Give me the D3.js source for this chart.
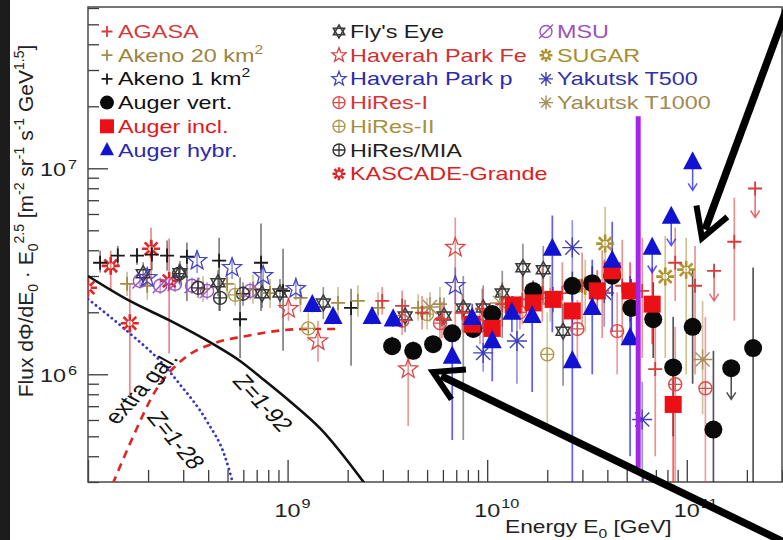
<!DOCTYPE html>
<html><head><meta charset="utf-8">
<script src="https://cdn.jsdelivr.net/npm/d3@7"></script>
<style>
body{margin:0;background:#fff}
svg{display:block}
text{font-family:"Liberation Sans",Arial,Helvetica,sans-serif}
</style>
</head><body>
<svg id="c" width="783" height="540"></svg>
<script>
// ---------------- DATA (energy GeV, flux, err low, err high, upper-limit flag) ----------------
const X_DOMAIN = [1e8, 3e11];
const Y_DOMAIN = [3e5, 6e7];
const xMajorTicks = [1e9, 1e10, 1e11];
const yMajorTicks = [1e6, 1e7];

const kascadeGrande = [
  [1.0e8, 2.63e6, 2.3e6, 3.0e6],
  [1.30e8, 3.36e6, 2.54e6, 3.98e6],
  [1.62e8, 1.77e6, 7.98e5, 2.76e6],
  [2.07e8, 4.07e6, 2.84e6, 5.15e6],
  [2.55e8, 2.84e6, 1.26e6, 4.56e6]
];
const akeno1 = [
  [1.15e8, 3.48e6, 3.12e6, 3.98e6],
  [1.41e8, 3.77e6, 3.36e6, 4.2e6],
  [1.76e8, 3.77e6, 3.4e6, 4.1e6],
  [2.09e8, 3.81e6, 3.2e6, 4.46e6],
  [2.49e8, 3.77e6, 3.18e6, 4.46e6],
  [3.13e8, 3.72e6, 2.27e6, 4.36e6],
  [4.54e8, 3.56e6, 2.03e6, 4.6e6],
  [5.78e8, 1.85e6, 1.2e6, 2.96e6],
  [7.36e8, 3.48e6, 2.03e6, 5.4e6],
  [9.49e8, 2.54e6, 1.3e6, 4.07e6],
  [2.08e9, 2.1e6, 1.1e6, 2.6e6]
];
const akeno20 = [
  [1.57e8, 2.75e6, 2.4e6, 3.15e6],
  [1.98e8, 2.69e6, 2.3e6, 3.1e6],
  [3.77e8, 2.6e6, 2.25e6, 3.0e6],
  [4.98e8, 2.75e6, 2.35e6, 3.2e6],
  [6.71e8, 2.6e6, 2.2e6, 3.05e6],
  [8.17e8, 2.48e6, 2.1e6, 2.9e6],
  [1.16e9, 2.35e6, 2.0e6, 2.75e6],
  [1.79e9, 2.22e6, 1.85e6, 2.65e6],
  [2.25e9, 2.27e6, 1.9e6, 2.7e6],
  [2.84e9, 2.1e6, 1.75e6, 2.5e6],
  [4.51e9, 2.1e6, 1.82e6, 2.45e6],
  [5.8e9, 2.19e6, 1.8e6, 2.65e6]
];
const flysEye = [
  [1.89e8, 3.08e6, 2.7e6, 3.5e6],
  [2.89e8, 3.11e6, 2.7e6, 3.55e6],
  [4.48e8, 2.78e6, 2.4e6, 3.2e6],
  [7.45e8, 2.46e6, 2.1e6, 2.85e6],
  [9.16e8, 2.48e6, 2.1e6, 2.9e6],
  [1.51e9, 2.22e6, 1.85e6, 2.65e6],
  [3.88e9, 1.92e6, 1.6e6, 2.3e6],
  [6.08e9, 1.92e6, 1.55e6, 2.35e6],
  [7.59e9, 2.1e6, 4.8e5, 3.0e6],
  [9.55e9, 2.1e6, 1.6e6, 2.7e6],
  [1.19e10, 2.48e6, 1.5e6, 3.18e6],
  [1.51e10, 3.29e6, 2.54e6, 4.3e6],
  [1.91e10, 3.22e6, 2.2e6, 4.2e6],
  [2.4e10, 1.62e6, 8.8e5, 2.2e6]
];
const haverahFe = [
  [1.01e9, 2.08e6, 1.82e6, 2.35e6],
  [1.42e9, 1.45e6, 1.15e6, 1.82e6],
  [4.02e9, 1.06e6, 5.6e5, 1.3e6],
  [6.92e9, 4.12e6, 1.5e6, 5.77e6]
];
const haverahP = [
  [1.98e8, 2.94e6, 2.6e6, 3.3e6],
  [3.52e8, 3.56e6, 3.1e6, 4.0e6],
  [5.27e8, 3.29e6, 2.9e6, 3.7e6],
  [7.54e8, 3.01e6, 2.65e6, 3.4e6],
  [1.10e9, 2.6e6, 2.3e6, 2.95e6],
  [6.92e9, 2.69e6, 2.2e6, 3.3e6]
];
const hiRes1 = [
  [3.75e9, 1.82e6, 1.55e6, 2.15e6],
  [5.8e9, 1.77e6, 1.45e6, 2.1e6],
  [9.2e9, 1.72e6, 1.4e6, 2.1e6],
  [1.46e10, 2.0e6, 1.65e6, 2.4e6],
  [2.83e10, 1.66e6, 1.1e6, 2.3e6],
  [4.48e10, 1.62e6, 1.0e6, 2.5e6],
  [8.75e10, 8.94e5, 2.0e5, 1.7e6],
  [1.24e11, 8.55e5, 2.0e5, 1.9e6]
];
const hiRes2 = [
  [5.46e8, 2.43e6, 2.15e6, 2.75e6],
  [1.27e9, 1.67e6, 1.45e6, 2.0e6],
  [5.0e9, 1.96e6, 1.65e6, 2.35e6],
  [2.0e10, 1.25e6, 5.6e5, 2.0e6]
];
const hiResMia = [
  [2.86e8, 3.08e6, 2.75e6, 3.45e6],
  [3.56e8, 2.63e6, 2.35e6, 2.95e6],
  [4.59e8, 2.35e6, 2.03e6, 2.84e6],
  [5.98e8, 2.46e6, 2.15e6, 2.8e6]
];
const msu = [
  [1.82e8, 2.84e6, 2.6e6, 3.1e6],
  [2.3e8, 2.69e6, 2.45e6, 2.95e6],
  [2.73e8, 2.75e6, 2.5e6, 3.0e6],
  [3.32e8, 2.69e6, 2.45e6, 2.95e6],
  [3.95e8, 2.54e6, 2.3e6, 2.8e6],
  [6.49e8, 2.54e6, 2.3e6, 2.8e6]
];
const sugar = [
  [3.1e10, 2.69e6, 1.6e6, 3.6e6],
  [3.9e10, 4.31e6, 2.3e6, 6.5e6],
  [7.8e10, 2.98e6, 1.2e6, 4.7e6],
  [9.93e10, 3.22e6, 1.0e6, 4.6e6]
];
const yakutsk500 = [
  [9.55e9, 1.27e6, 1.03e6, 1.82e6],
  [1.41e10, 1.45e6, 9.0e5, 2.27e6],
  [2.67e10, 4.12e6, 2.27e6, 5.6e6],
  [3.86e10, 2.48e6, 1.7e6, 3.6e6],
  [5.98e10, 6.03e5, 2.0e5, 9.2e5]
];
const yakutsk1000 = [
  [5.17e9, 2.12e6, 1.8e6, 2.5e6],
  [1.16e10, 2.22e6, 1.8e6, 2.7e6],
  [2.07e10, 2.35e6, 1.8e6, 3.0e6],
  [1.2e11, 1.18e6, 6.4e5, 2.27e6]
];
const agasa = [
  [2.98e9, 2.27e6, 1.95e6, 2.65e6],
  [3.75e9, 2.15e6, 1.8e6, 2.55e6],
  [4.72e9, 1.99e6, 1.65e6, 2.4e6],
  [5.94e9, 1.85e6, 1.5e6, 2.25e6],
  [7.5e9, 1.99e6, 1.6e6, 2.45e6],
  [9.44e9, 2.08e6, 1.65e6, 2.6e6],
  [1.19e10, 2.19e6, 1.7e6, 2.8e6],
  [1.5e10, 2.31e6, 1.75e6, 3.0e6],
  [1.89e10, 2.48e6, 1.8e6, 3.3e6],
  [2.38e10, 2.48e6, 1.7e6, 3.5e6],
  [2.99e10, 2.69e6, 1.7e6, 3.9e6],
  [3.77e10, 2.54e6, 1.5e6, 4.0e6],
  [4.75e10, 2.69e6, 1.4e6, 4.5e6],
  [5.98e10, 2.54e6, 1.2e6, 4.6e6],
  [6.95e10, 1.06e6, 4.0e5, 2.3e6],
  [8.75e10, 3.48e6, 2.27e6, 5.16e6],
  [1.1e11, 2.69e6, 1.0e6, 4.2e6],
  [1.37e11, 3.18e6, 2.27e6, 3.18e6, 1],
  [1.73e11, 4.4e6, 1.82e6, 7.2e6],
  [2.2e11, 7.98e6, 5.77e6, 7.98e6, 1]
];
const augerVert = [
  [3.34e9, 1.37e6, 1.24e6, 1.52e6],
  [4.26e9, 1.30e6, 1.18e6, 1.44e6],
  [5.36e9, 1.40e6, 1.27e6, 1.54e6],
  [6.68e9, 1.58e6, 1.43e6, 1.74e6],
  [8.51e9, 1.66e6, 1.5e6, 1.84e6],
  [1.06e10, 1.96e6, 1.77e6, 2.17e6],
  [1.7e10, 2.54e6, 2.25e6, 2.85e6],
  [2.67e10, 2.69e6, 2.3e6, 3.15e6],
  [3.36e10, 2.77e6, 2.3e6, 3.35e6],
  [4.23e10, 3.01e6, 2.4e6, 3.8e6],
  [5.27e10, 2.1e6, 1.5e6, 2.9e6],
  [6.79e10, 1.85e6, 1.2e6, 2.8e6],
  [8.55e10, 1.08e6, 5.0e5, 1.9e6],
  [1.07e11, 1.7e6, 9.0e5, 3.2e6],
  [1.36e11, 5.39e5, 2.0e5, 1.3e6],
  [1.67e11, 1.07e6, 7.55e5, 1.07e6, 1],
  [2.15e11, 1.34e6, 2.0e5, 3.3e6]
];
const augerIncl = [
  [8.41e9, 1.75e6, 1.6e6, 1.9e6],
  [1.06e10, 1.67e6, 1.52e6, 1.84e6],
  [1.35e10, 2.17e6, 1.95e6, 2.4e6],
  [1.7e10, 2.22e6, 1.98e6, 2.5e6],
  [2.14e10, 2.31e6, 2.0e6, 2.65e6],
  [2.67e10, 2.03e6, 1.7e6, 2.4e6],
  [3.56e10, 2.54e6, 2.0e6, 3.2e6],
  [4.23e10, 3.18e6, 2.4e6, 4.1e6],
  [5.2e10, 2.54e6, 1.8e6, 3.5e6],
  [6.71e10, 2.19e6, 1.4e6, 3.3e6],
  [8.55e10, 7.14e5, 2.0e5, 1.16e6]
];
const augerHybr = [
  [1.33e9, 2.17e6, 2.0e6, 2.35e6],
  [1.69e9, 1.9e6, 1.75e6, 2.05e6],
  [2.65e9, 1.9e6, 1.75e6, 2.06e6],
  [3.38e9, 1.85e6, 1.7e6, 2.02e6],
  [6.68e9, 1.22e6, 4.8e5, 1.5e6],
  [8.41e9, 1.88e6, 1.6e6, 2.2e6],
  [1.06e10, 1.45e6, 9.25e5, 1.75e6],
  [1.33e10, 1.99e6, 1.6e6, 2.4e6],
  [1.68e10, 1.92e6, 8.2e5, 2.3e6],
  [2.12e10, 4.07e6, 1.6e6, 5.9e6],
  [2.67e10, 1.16e6, 2.0e5, 2.9e6],
  [3.36e10, 2.1e6, 1.0e6, 3.6e6],
  [4.23e10, 3.56e6, 1.6e6, 5.5e6],
  [5.2e10, 1.5e6, 4.0e5, 3.0e6],
  [6.71e10, 4.12e6, 3.12e6, 4.12e6, 1],
  [8.36e10, 5.83e6, 4.21e6, 5.83e6, 1],
  [1.07e11, 1.07e7, 7.81e6, 1.07e7, 1]
];

// model curves
const zAllE = [1e8, 1.62e8, 2.58e8, 4.24e8, 5.78e8, 7.45e8, 1.03e9, 1.46e9, 2.44e9];
const zAllF = [3.0e6, 2.27e6, 1.82e6, 1.40e6, 1.16e6, 9.55e5, 7.38e5, 5.45e5, 2.94e5];
const extraGalE = [1e8, 1.62e8, 2.3e8, 2.89e8, 3.95e8, 4.86e8, 5.33e8];
const extraGalF = [2.32e6, 1.58e6, 1.16e6, 8.93e5, 5.9e5, 3.98e5, 2.94e5];
const z128E = [1.33e8, 1.64e8, 2.17e8, 2.92e8, 4.33e8, 6.12e8, 8.65e8, 1.25e9, 1.83e9];
const z128F = [2.94e5, 4.71e5, 8.26e5, 1.16e6, 1.42e6, 1.53e6, 1.62e6, 1.66e6, 1.66e6];
// thick violet bar
const violetE = 5.71e10, violetF = [3.52e5, 1.79e7];

// ---------------- DRAWING ----------------
const svg = d3.select('#c');
const x = d3.scaleLog().domain(X_DOMAIN).range([88, 782]);
const y = d3.scaleLog().domain(Y_DOMAIN).range([482, 8]);
const SX = 1.3; // horizontal stretch of the original image

svg.append('rect').attr('width', 783).attr('height', 540).attr('fill', '#fff');
svg.append('rect').attr('x', 0).attr('y', 0).attr('width', 10).attr('height', 540).attr('fill', '#1c1c1c');

svg.append('defs').append('clipPath').attr('id', 'clip')
  .append('rect').attr('x', 88).attr('y', 7).attr('width', 694).attr('height', 475);

const isMajor = d => Math.abs(Math.log10(d) - Math.round(Math.log10(d))) < 1e-6;

// axes
const gx = svg.append('g').attr('transform', 'translate(0,482)')
  .call(d3.axisBottom(x).tickSizeInner(-12).tickSizeOuter(0).tickFormat(''));
gx.select('.domain').remove();
gx.selectAll('.tick line').attr('stroke', '#3a3a3a').attr('stroke-width', 1.3)
  .attr('y2', d => isMajor(d) ? -22 : -12);

const gy = svg.append('g').attr('transform', 'translate(88,0)')
  .call(d3.axisLeft(y).tickSizeInner(-11).tickSizeOuter(0).tickFormat(''));
gy.select('.domain').remove();
gy.selectAll('.tick line').attr('stroke', '#3a3a3a').attr('stroke-width', 1.3)
  .attr('x2', d => isMajor(d) ? 20 : 11);

svg.append('rect').attr('x', 88).attr('y', 7).attr('width', 694).attr('height', 475)
  .attr('fill', 'none').attr('stroke', '#4a4a4a').attr('stroke-width', 1.5);

function stext(parent, px, py, size, color, anchor) {
  return parent.append('text')
    .attr('transform', `translate(${px},${py}) scale(${SX},1)`)
    .attr('font-size', size).attr('fill', color).attr('text-anchor', anchor || 'start');
}

// tick labels
xMajorTicks.forEach(v => {
  const px = x(v);
  stext(svg, px, 517, 18, '#222', 'middle').text('10');
  stext(svg, px + 14, 508, 12.5, '#222').text(String(Math.round(Math.log10(v))));
});
yMajorTicks.forEach(v => {
  const py = y(v);
  stext(svg, 66, py + 8, 18, '#222', 'end').text('10');
  stext(svg, 68, py + 1, 12.5, '#222').text(String(Math.round(Math.log10(v))));
});

// axis titles
const xt = stext(svg, 505, 533, 17.5, '#222');
xt.append('tspan').text('Energy E');
xt.append('tspan').attr('font-size', 12).attr('dy', 5).text('0');
xt.append('tspan').attr('dy', -5).text(' [GeV]');

const yt = svg.append('text')
  .attr('transform', `translate(33,221) rotate(-90)`)
  .attr('font-size', 21).attr('fill', '#222').attr('text-anchor', 'middle');
[['Flux dΦ/dE', 0], ['0', 1], [' · E', 0], ['0', 1], ['2.5', -1], [' [m', 0], ['-2', -1], [' sr', 0], ['-1', -1],
 [' s', 0], ['-1', -1], [' GeV', 0], ['1.5', -1], [']', 0]].reduce((prev, [t, k]) => {
  const off = k === 1 ? 5 : k === -1 ? -9 : 0;
  yt.append('tspan').attr('font-size', k ? 14 : 21).attr('dy', off - prev).text(t);
  return off;
}, 0);

// marker paths
function starPath(cx, cy, R, r, n) {
  const pts = [];
  for (let i = 0; i < 2 * n; i++) {
    const a = -Math.PI / 2 + i * Math.PI / n, rr = i % 2 ? r : R;
    pts.push([cx + rr * Math.cos(a), cy + rr * Math.sin(a)]);
  }
  return 'M' + pts.map(p => p[0].toFixed(2) + ',' + p[1].toFixed(2)).join('L') + 'Z';
}
function triPath(cx, cy, R, up) {
  const base = up ? -90 : 90;
  return 'M' + [0, 120, 240].map(k => {
    const a = (base + k) * Math.PI / 180;
    return (cx + R * Math.cos(a)).toFixed(2) + ',' + (cy + R * Math.sin(a)).toFixed(2);
  }).join('L') + 'Z';
}
function drawMarker(g, m, cx, cy, s, c) {
  const line = (d, w) => g.append('path').attr('d', d).attr('fill', 'none').attr('stroke', c).attr('stroke-width', w);
  if (m === 'plus') line(`M${cx - s},${cy}H${cx + s}M${cx},${cy - s}V${cy + s}`, 1.8);
  else if (m === 'circle') g.append('circle').attr('cx', cx).attr('cy', cy).attr('r', s).attr('fill', c);
  else if (m === 'square') g.append('rect').attr('x', cx - s).attr('y', cy - s).attr('width', 2 * s).attr('height', 2 * s).attr('fill', c);
  else if (m === 'triangle') g.append('path').attr('d', `M${cx},${cy - s * 1.15}L${cx + s},${cy + s * 0.75}L${cx - s},${cy + s * 0.75}Z`).attr('fill', c);
  else if (m === 'star5') line(starPath(cx, cy, s, s * 0.42, 5), 1.3);
  else if (m === 'star6') { line(triPath(cx, cy, s, true), 1.5); line(triPath(cx, cy, s, false), 1.5); }
  else if (m === 'oplus') { g.append('circle').attr('cx', cx).attr('cy', cy).attr('r', s).attr('fill', 'none').attr('stroke', c).attr('stroke-width', 1.4); line(`M${cx - s},${cy}H${cx + s}M${cx},${cy - s}V${cy + s}`, 1.3); }
  else if (m === 'oslash') { g.append('circle').attr('cx', cx).attr('cy', cy).attr('r', s).attr('fill', 'none').attr('stroke', c).attr('stroke-width', 1.4); line(`M${cx - s * 1.15},${cy + s * 1.15}L${cx + s * 1.15},${cy - s * 1.15}`, 1.4); }
  else if (m === 'ast') {
    let d = '';
    [0, 45, 90, 135].forEach(a => { const r = a * Math.PI / 180, dx = s * Math.cos(r), dy = s * Math.sin(r); d += `M${cx - dx},${cy - dy}L${cx + dx},${cy + dy}`; });
    line(d, 1.4);
  } else if (m === 'astBold') {
    let d = '';
    for (let k = 0; k < 8; k++) { const r = k * Math.PI / 4; d += `M${cx + s * 0.3 * Math.cos(r)},${cy + s * 0.3 * Math.sin(r)}L${cx + s * Math.cos(r)},${cy + s * Math.sin(r)}`; }
    line(d, 2.6);
  }
}

const series = [
  {label: 'AGASA', data: agasa, m: 'plus', c: '#d93a3a', tc: '#d33a3a', col: 0, row: 0, s: 7, ls: 5.5},
  {label: 'Akeno 20 km²', data: akeno20, m: 'plus', c: '#a48c48', tc: '#9c8440', col: 0, row: 1, s: 7, ls: 5.5},
  {label: 'Akeno 1 km²', data: akeno1, m: 'plus', c: '#1a1a1a', tc: '#111', col: 0, row: 2, s: 7, ls: 5.5},
  {label: 'Auger vert.', data: augerVert, m: 'circle', c: '#0a0a0a', tc: '#111', col: 0, row: 3, s: 9, ls: 7},
  {label: 'Auger incl.', data: augerIncl, m: 'square', c: '#ea1016', tc: '#e4161c', col: 0, row: 4, s: 8.5, ls: 7},
  {label: 'Auger hybr.', data: augerHybr, m: 'triangle', c: '#1212d2', tc: '#2a2aae', col: 0, row: 5, s: 9.5, ls: 7},
  {label: "Fly's Eye", data: flysEye, m: 'star6', c: '#3a3a3a', tc: '#1e1e1e', col: 1, row: 0, s: 8, ls: 6.5},
  {label: 'Haverah Park Fe', data: haverahFe, m: 'star5', c: '#d84444', tc: '#d23030', col: 1, row: 1, s: 10, ls: 7.5},
  {label: 'Haverah Park p', data: haverahP, m: 'star5', c: '#4444c4', tc: '#2a2ab0', col: 1, row: 2, s: 10, ls: 7.5},
  {label: 'HiRes-I', data: hiRes1, m: 'oplus', c: '#e04a4a', tc: '#d83434', col: 1, row: 3, s: 6.5, ls: 6},
  {label: 'HiRes-II', data: hiRes2, m: 'oplus', c: '#b09a4e', tc: '#a89040', col: 1, row: 4, s: 6.5, ls: 6},
  {label: 'HiRes/MIA', data: hiResMia, m: 'oplus', c: '#333', tc: '#1e1e1e', col: 1, row: 5, s: 6.5, ls: 6},
  {label: 'KASCADE-Grande', data: kascadeGrande, m: 'astBold', c: '#e02626', tc: '#d82222', col: 1, row: 6, s: 9, ls: 6.5},
  {label: 'MSU', data: msu, m: 'oslash', c: '#9a52c4', tc: '#9a50c0', col: 2, row: 0, s: 6.5, ls: 6},
  {label: 'SUGAR', data: sugar, m: 'astBold', c: '#b0922e', tc: '#a88e2e', col: 2, row: 1, s: 9, ls: 6.5},
  {label: 'Yakutsk T500', data: yakutsk500, m: 'ast', c: '#4040b4', tc: '#3232a6', col: 2, row: 2, s: 10, ls: 7},
  {label: 'Yakutsk T1000', data: yakutsk1000, m: 'ast', c: '#a88e5c', tc: '#a08a50', col: 2, row: 3, s: 10, ls: 7}
];
const byLabel = Object.fromEntries(series.map(s => [s.label, s]));
const drawOrder = ['KASCADE-Grande', 'Akeno 1 km²', 'Akeno 20 km²', 'MSU', 'HiRes/MIA', "Fly's Eye", 'Haverah Park p',
  'Haverah Park Fe', 'HiRes-II', 'HiRes-I', 'Yakutsk T1000', 'Yakutsk T500', 'SUGAR', 'AGASA',
  'Auger vert.', 'Auger incl.', 'Auger hybr.'];

const plot = svg.append('g').attr('clip-path', 'url(#clip)');

// error bars
const gErr = plot.append('g');
series.forEach(s => {
  s.data.forEach(d => {
    const px = x(d[0]);
    const col = s.label.startsWith('Auger') ? d3.color(s.c).brighter(0.9) : s.c;
    const op = s.label.startsWith('Auger') ? 0.7 : 0.55;
    if (d[4]) {
      const y0 = y(d[1]), y1 = y(d[2]);
      gErr.append('path').attr('d', `M${px},${y0}V${y1}M${px - 4.5},${y1 - 7}L${px},${y1}L${px + 4.5},${y1 - 7}`)
        .attr('fill', 'none').attr('stroke', col).attr('stroke-opacity', 0.75).attr('stroke-width', 1.5);
    } else {
      gErr.append('line').attr('x1', px).attr('x2', px).attr('y1', y(d[3])).attr('y2', y(d[2]))
        .attr('stroke', col).attr('stroke-opacity', op).attr('stroke-width', 1.7);
    }
  });
});

// model curves
const lineGen = d3.line().x(d => x(d[0])).y(d => y(d[1])).curve(d3.curveMonotoneX);
plot.append('path').attr('d', lineGen(d3.zip(zAllE, zAllF))).attr('fill', 'none').attr('stroke', '#111').attr('stroke-width', 2.6);
plot.append('path').attr('d', lineGen(d3.zip(extraGalE, extraGalF))).attr('fill', 'none').attr('stroke', '#3434c8')
  .attr('stroke-width', 2.8).attr('stroke-dasharray', '0.1,5').attr('stroke-linecap', 'round');
plot.append('path').attr('d', lineGen(d3.zip(z128E, z128F))).attr('fill', 'none').attr('stroke', '#e02424')
  .attr('stroke-width', 2.6).attr('stroke-dasharray', '8,6');

// markers
const gMk = plot.append('g');
drawOrder.forEach(l => {
  const s = byLabel[l];
  s.data.forEach(d => drawMarker(gMk, s.m, x(d[0]), y(d[1]), s.s, s.c));
});

// violet bar
plot.append('line').attr('x1', x(violetE)).attr('x2', x(violetE)).attr('y1', y(violetF[1])).attr('y2', y(violetF[0]))
  .attr('stroke', '#a424e8').attr('stroke-width', 5);

// curve labels (rotated in the stretched frame)
function curveLabel(t, px, py, visAng) {
  const r = visAng * Math.PI / 180;
  const a = Math.atan2(Math.sin(r), Math.cos(r) / SX) * 180 / Math.PI;
  svg.append('text')
    .attr('transform', `translate(${px},${py}) scale(${SX},1) rotate(${a})`).attr('font-size', 20).attr('fill', '#111')
    .attr('text-anchor', 'middle').attr('dominant-baseline', 'central').text(t);
}
curveLabel('extra gal.', 141, 388, -47.5);
curveLabel('Z=1-28', 176, 440, 50);
curveLabel('Z=1-92', 263, 403, 47);

// legend
const colMx = [107, 339, 546], colTx = [118, 350, 557];
series.forEach(s => {
  const by = 38 + s.row * 23.7;
  drawMarker(svg, s.m, colMx[s.col], by - 6.5, s.ls, s.c);
  const t = stext(svg, colTx[s.col], by, 18, s.tc);
  if (s.label.includes('²')) {
    t.append('tspan').text(s.label.replace('²', ''));
    t.append('tspan').attr('font-size', 12).attr('dy', -8).text('2');
  } else t.text(s.label);
});

// annotation arrows
function arrow(x0, y0, tx, ty) {
  const L = Math.hypot(tx - x0, ty - y0), bx = (x0 - tx) / L, by = (y0 - ty) / L;
  const rot = a => [bx * Math.cos(a) - by * Math.sin(a), bx * Math.sin(a) + by * Math.cos(a)];
  const a1 = rot(Math.PI / 6), a2 = rot(-Math.PI / 6), h = 33;
  svg.append('line').attr('x1', x0).attr('y1', y0).attr('x2', tx + bx * 9).attr('y2', ty + by * 9)
    .attr('stroke', '#000').attr('stroke-width', 7.5);
  svg.append('path').attr('d', `M${tx + a1[0] * h},${ty + a1[1] * h}L${tx},${ty}L${tx + a2[0] * h},${ty + a2[1] * h}`)
    .attr('fill', 'none').attr('stroke', '#000').attr('stroke-width', 6).attr('stroke-linejoin', 'miter');
}
arrow(790, 0, 702, 238);
arrow(790, 545, 433, 372);
</script>
</body></html>
